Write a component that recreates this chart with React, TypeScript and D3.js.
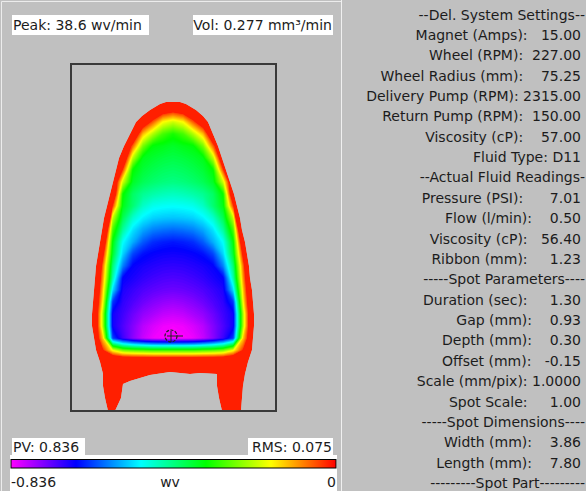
import React, { useEffect, useRef } from "react";
import * as d3 from "d3";

// removal depth (wv) on the spot map, rows top -> bottom, columns left -> right
// (-0.5 = outside of the spot)
const N = -0.5;
const depthRows: number[][] = [
  [N, N, N, N, N, N, N, N, N, N, N, N, N, N, N, N, N, N, N],
  [N, N, N, N, N, N, N, -0.08, -0.03, 0, -0.03, -0.08, N, N, N, N, N, N, N],
  [N, N, N, N, N, N, -0.045, 0.061, 0.167, 0.2, 0.167, 0.061, -0.045, N, N, N, N, N, N],
  [N, N, N, N, N, -0.085, 0.125, 0.22, 0.29, 0.32, 0.29, 0.22, 0.125, -0.085, N, N, N, N, N],
  [N, N, N, N, -0.1, 0.065, 0.256, 0.34, 0.35, 0.36, 0.35, 0.34, 0.256, 0.065, -0.1, N, N, N, N],
  [N, N, N, N, -0.087, 0.214, 0.35, 0.365, 0.375, 0.38, 0.375, 0.365, 0.35, 0.214, -0.087, N, N, N, N],
  [N, N, N, -0.1, 0.045, 0.335, 0.37, 0.385, 0.395, 0.4, 0.395, 0.385, 0.37, 0.335, 0.045, -0.1, N, N, N],
  [N, N, N, -0.1, 0.2, 0.36, 0.39, 0.405, 0.415, 0.42, 0.415, 0.405, 0.39, 0.36, 0.2, -0.1, N, N, N],
  [N, N, N, -0.1, 0.33, 0.4, 0.43, 0.445, 0.455, 0.46, 0.455, 0.445, 0.43, 0.4, 0.33, -0.1, N, N, N],
  [N, N, -0.1, 0.045, 0.35, 0.41, 0.465, 0.49, 0.497, 0.5, 0.497, 0.49, 0.465, 0.41, 0.35, 0.045, -0.1, N, N],
  [N, N, N, 0.21, 0.39, 0.47, 0.51, 0.53, 0.537, 0.54, 0.537, 0.53, 0.51, 0.47, 0.39, 0.21, N, N, N],
  [N, N, -0.21, 0.29, 0.44, 0.52, 0.56, 0.585, 0.595, 0.6, 0.595, 0.585, 0.56, 0.52, 0.44, 0.29, -0.21, N, N],
  [N, N, -0.09, 0.345, 0.5, 0.555, 0.61, 0.64, 0.65, 0.655, 0.65, 0.64, 0.61, 0.555, 0.5, 0.345, -0.09, N, N],
  [N, N, 0.004, 0.368, 0.53, 0.625, 0.66, 0.672, 0.678, 0.68, 0.678, 0.672, 0.66, 0.625, 0.53, 0.368, 0.004, N, N],
  [N, -0.25, 0.072, 0.415, 0.585, 0.672, 0.684, 0.692, 0.698, 0.7, 0.698, 0.692, 0.684, 0.672, 0.585, 0.415, 0.072, -0.25, N],
  [N, -0.2, 0.1, 0.451, 0.67, 0.685, 0.7, 0.71, 0.717, 0.72, 0.717, 0.71, 0.7, 0.685, 0.67, 0.451, 0.1, -0.2, N],
  [N, -0.18, 0.135, 0.528, 0.688, 0.705, 0.72, 0.73, 0.737, 0.74, 0.737, 0.73, 0.72, 0.705, 0.688, 0.528, 0.135, -0.18, N],
  [N, -0.15, 0.167, 0.636, 0.7, 0.72, 0.74, 0.755, 0.765, 0.77, 0.765, 0.755, 0.74, 0.72, 0.7, 0.636, 0.167, -0.15, N],
  [N, -0.14, 0.22, 0.68, 0.71, 0.74, 0.765, 0.78, 0.795, 0.8, 0.795, 0.78, 0.765, 0.74, 0.71, 0.68, 0.22, -0.14, N],
  [N, -0.14, 0.22, 0.68, 0.72, 0.755, 0.79, 0.81, 0.825, 0.83, 0.825, 0.81, 0.79, 0.755, 0.72, 0.68, 0.22, -0.14, N],
  [N, -0.1, 0.135, 0.63, 0.71, 0.76, 0.8, 0.825, 0.834, 0.836, 0.834, 0.825, 0.8, 0.76, 0.71, 0.63, 0.135, -0.1, N],
  [N, N, 0.03, 0.18, 0.26, 0.28, 0.29, 0.3, 0.3, 0.3, 0.3, 0.3, 0.29, 0.28, 0.26, 0.18, 0.03, N, N],
  [N, N, -0.3, -0.15, -0.15, -0.15, -0.15, -0.15, -0.15, -0.15, -0.15, -0.15, -0.15, -0.15, -0.15, -0.15, -0.3, N, N],
];

// spot edge (map px), clockwise from the top
const spotOutline: [number, number][] = [
  [89, 40], [95, 38], [109, 38], [115, 40], [125, 46], [132, 52], [137, 58],
  [142, 70], [147, 82], [151, 94], [155, 106], [159, 118], [163, 130], [166, 142],
  [169, 154], [171, 166], [174, 178], [176, 190], [178, 202], [179, 214], [181, 226],
  [182, 238], [183, 250], [183, 262], [182, 274], [181, 286], [177, 298], [174, 310],
  [172, 322], [171, 334], [170, 347], [151, 347], [148, 334], [146, 322], [146, 310],
  [129, 309], [119, 310], [99, 308], [79, 311], [69, 314], [59, 317], [52, 320],
  [50, 334], [44, 347], [37, 347], [34, 334], [32, 322], [32, 310], [29, 298],
  [25, 286], [23, 274], [21, 262], [21, 250], [22, 238], [23, 226], [24, 214],
  [25, 202], [27, 190], [29, 178], [31, 166], [33, 154], [36, 142], [39, 130],
  [42, 118], [45, 106], [48, 94], [53, 82], [59, 70], [65, 58], [71, 52], [79, 46],
];

const peakPoint: [number, number] = [100, 272];

const scaleMin = -0.836;
const scaleMax = 0;
const scaleUnit = "wv";
const peakLabel = "Peak: 38.6 wv/min";
const volLabel = "Vol: 0.277 mm³/min";
const pvLabel = "PV: 0.836";
const rmsLabel = "RMS: 0.075";

const settingsLines = [
  "--Del. System Settings--",
  "Magnet (Amps):   15.00",
  "Wheel (RPM):  227.00",
  "Wheel Radius (mm):    75.25",
  "Delivery Pump (RPM): 2315.00",
  "Return Pump (RPM):  150.00",
  "Viscosity (cP):    57.00",
  "Fluid Type: D11",
  "--Actual Fluid Readings-",
  "Pressure (PSI):      7.01",
  "Flow (l/min):    0.50",
  "Viscosity (cP):   56.40",
  "Ribbon (mm):     1.23",
  "-----Spot Parameters----",
  "Duration (sec):     1.30",
  "Gap (mm):    0.93",
  "Depth (mm):    0.30",
  "Offset (mm):   -0.15",
  "Scale (mm/pix): 1.0000",
  "Spot Scale:     1.00",
  "-----Spot Dimensions----",
  "Width (mm):    3.86",
  "Length (mm):    7.80",
  "---------Spot Part---------",
];

const W = 586;
const H = 491;

const App = () => {
  const svgRef = useRef<SVGSVGElement | null>(null);

  useEffect(() => {
    const svg = d3.select(svgRef.current);
    svg.selectAll("*").remove();

    const font = "'DejaVu Sans', sans-serif";
    const ink = "#1c1c1c";

    // map frame, in spot image px
    const x = d3.scaleLinear().domain([0, 205]).range([71, 276]);
    const y = d3.scaleLinear().domain([0, 347]).range([64, 411]);

    const hue = d3.scaleLinear().domain([scaleMin, scaleMax]).range([300, 0]).clamp(true);
    const colorOf = (v: number) => d3.hsl(hue(v), 1, 0.5).formatHex();

    svg.append("rect").attr("width", W).attr("height", H).attr("fill", "#c0c0c0");
    svg.append("path")
      .attr("d", "M1.5,491V1.5H341")
      .attr("fill", "none")
      .attr("stroke", "#ececec");
    svg.append("line")
      .attr("x1", 341.5).attr("x2", 341.5)
      .attr("y1", 0).attr("y2", H)
      .attr("stroke", "#f0f0f0");

    const outlinePath = d3.line()
      .x((d) => x(d[0]))
      .y((d) => y(d[1]))(spotOutline) + "Z";

    const defs = svg.append("defs");
    defs.append("clipPath").attr("id", "spotClip").append("path").attr("d", outlinePath);

    const grad = defs.append("linearGradient").attr("id", "cbar");
    d3.range(0, 1.0001, 0.05).forEach((t) => {
      grad.append("stop")
        .attr("offset", t)
        .attr("stop-color", colorOf(scaleMin + t * (scaleMax - scaleMin)));
    });

    // depth grid -> filled contour bands
    const nRows = depthRows.length;
    const nCols = depthRows[0].length;
    const colX = d3.scaleLinear().domain([0, nCols - 1]).range([12, 12 + 10 * (nCols - 1)]);
    const rowY = d3.scaleLinear().domain([0, nRows - 1]).range([34, 34 + 12 * (nRows - 1)]);
    const step = 0.005;
    const levels = d3.range(0.04, 0.84, step);
    const bands = d3.contours().size([nCols, nRows]).thresholds(levels)(depthRows.flat());
    const toScreen = d3.geoTransform({
      point: function (px: number, py: number) {
        this.stream.point(x(colX(px - 0.5)), y(rowY(py - 0.5)));
      },
    });
    const pathGen = d3.geoPath(toScreen);

    const spot = svg.append("g").attr("clip-path", "url(#spotClip)");
    spot.append("path").attr("d", outlinePath).attr("fill", colorOf(-0.02));
    spot.selectAll("path.band")
      .data(bands)
      .join("path")
      .attr("class", "band")
      .attr("d", (d) => pathGen(d))
      .attr("fill", (d) => colorOf(-(d.value + step / 2)));

    svg.append("rect")
      .attr("x", x(0)).attr("y", y(0))
      .attr("width", x(205) - x(0)).attr("height", y(347) - y(0))
      .attr("fill", "none")
      .attr("stroke", "#3a3a3a")
      .attr("stroke-width", 2);

    // peak marker
    const px = x(peakPoint[0]);
    const py = y(peakPoint[1]);
    svg.append("circle")
      .attr("cx", px).attr("cy", py).attr("r", 6)
      .attr("fill", "none").attr("stroke", "#222").attr("stroke-width", 1.2)
      .attr("stroke-dasharray", "3,1.5");
    svg.append("path")
      .attr("d", `M${px - 4},${py}H${px + 12}M${px},${py - 5}V${py + 6}`)
      .attr("stroke", "#222").attr("stroke-width", 1);

    // white label boxes
    const box = (bx: number, by: number, bw: number, bh: number) =>
      svg.append("rect").attr("x", bx).attr("y", by).attr("width", bw).attr("height", bh).attr("fill", "#fff");
    const label = (t: string, tx: number, ty: number, anchor: string) =>
      svg.append("text")
        .attr("x", tx).attr("y", ty)
        .attr("text-anchor", anchor)
        .attr("font-family", font).attr("font-size", 14)
        .attr("fill", ink)
        .attr("xml:space", "preserve")
        .style("white-space", "pre")
        .text(t);

    box(12, 15, 137, 20);
    label(peakLabel, 13, 30, "start");
    box(193, 15, 140, 20);
    label(volLabel, 332, 30, "end");

    box(12, 438, 73, 18);
    label(pvLabel, 13, 452, "start");
    box(248, 438, 85, 18);
    label(rmsLabel, 332, 452, "end");

    // colour bar
    box(10, 455, 327, 36);
    svg.append("rect")
      .attr("x", 11).attr("y", 459.5).attr("width", 325).attr("height", 8.5)
      .attr("fill", "url(#cbar)")
      .attr("stroke", "#000").attr("stroke-width", 1);
    label(String(scaleMin), 11, 487, "start");
    label(scaleUnit, 170, 487, "middle");
    label(String(scaleMax), 336, 487, "end");

    // settings list
    const lineY = d3.scaleLinear().domain([0, settingsLines.length - 1]).range([19.5, 488]);
    svg.append("g")
      .selectAll("text")
      .data(settingsLines)
      .join("text")
      .attr("x", (d) => (d.startsWith("-") ? 585 : 581))
      .attr("y", (_, i) => lineY(i))
      .attr("text-anchor", "end")
      .attr("font-family", font)
      .attr("font-size", 14)
      .attr("fill", ink)
      .attr("xml:space", "preserve")
      .style("white-space", "pre")
      .text((d) => d);
  }, []);

  return (
    <svg
      ref={svgRef}
      width={W}
      height={H}
      style={{ position: "absolute", left: 0, top: 0, display: "block" }}
    />
  );
};

export default App;
